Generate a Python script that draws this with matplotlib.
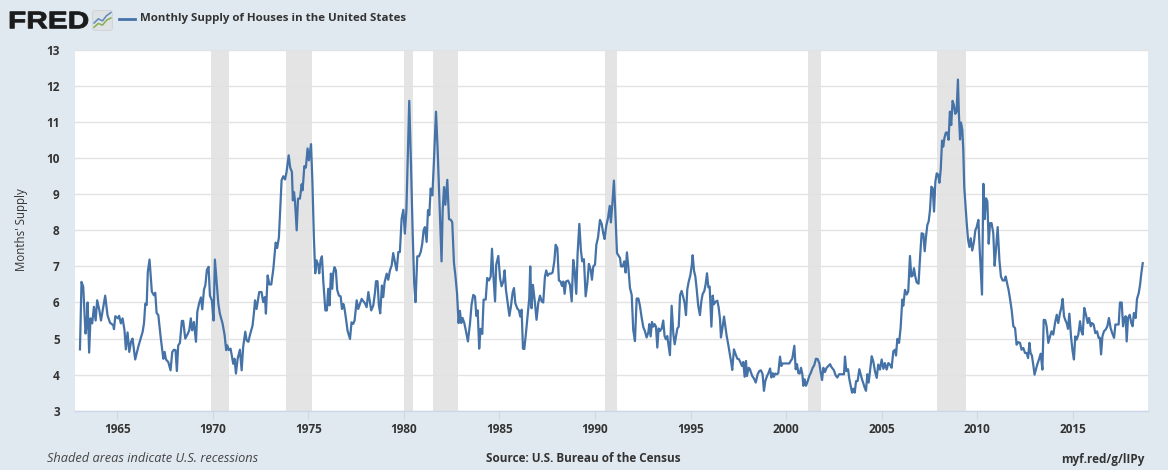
import matplotlib
matplotlib.use("Agg")
import matplotlib.pyplot as plt
from matplotlib.patches import FancyBboxPatch, PathPatch
from matplotlib.textpath import TextPath
from matplotlib.font_manager import FontProperties
from matplotlib.transforms import Affine2D
import numpy as np

# ---------------- data ----------------
years_1963 = [1963.05,1963.13,1963.22,1963.34,1963.40,1963.45,1963.53,1963.60,1963.69,1963.78,1963.87,1963.95,
              1964.06,1964.15,1964.37,1964.49,1964.62,1964.79,1964.83,1964.90,1965.04,1965.10,1965.19,1965.28,
              1965.38,1965.45,1965.54,1965.63,1965.72,1965.80,1965.94,1966.10,1966.33,1966.40,1966.47,1966.54,
              1966.60,1966.69,1966.81,1966.92,1966.99,1967.06,1967.15,1967.27,1967.41,1967.48,1967.55,1967.67,
              1967.79,1967.88,1967.97,1968.05,1968.12,1968.19,1968.28,1968.38,1968.45,1968.56,1968.68,1968.77,
              1968.85,1968.92,1969.01,1969.12,1969.19,1969.29,1969.38,1969.45,1969.54,1969.61,1969.69,1969.78,
              1969.85,1969.95,1970.04,1970.11,1970.18,1970.29,1970.37,1970.51,1970.62,1970.70,1970.76,1970.84,
              1970.93,1971.02,1971.07,1971.14,1971.21,1971.30,1971.42,1971.51,1971.59,1971.70,1971.77,1971.86,
              1971.94]
supply_1963 = [4.70,6.57,6.44,5.14,5.37,6.00,4.61,5.56,5.42,5.88,5.50,6.06,
               5.80,5.50,6.19,5.65,5.44,5.37,5.26,5.62,5.56,5.63,5.42,5.56,
               5.23,4.70,5.17,4.63,4.91,5.00,4.42,4.77,5.19,5.42,5.97,5.93,
               6.85,7.19,6.30,6.20,6.27,5.71,5.65,5.05,4.44,4.63,4.42,4.35,
               4.12,4.63,4.69,4.68,4.10,4.81,4.88,5.49,5.49,5.00,5.12,5.23,
               5.56,5.23,5.46,4.91,5.74,5.99,6.14,5.81,6.36,6.48,6.90,6.99,
               6.19,6.06,5.50,7.19,6.71,5.97,5.69,5.42,5.09,4.68,4.81,4.68,
               4.72,4.44,4.30,4.44,4.03,4.44,4.69,4.12,4.77,5.19,4.95,4.91,
               5.09]

years_1972 = [1972.08,1972.15,1972.21,1972.29,1972.43,1972.55,1972.64,1972.73,1972.78,1972.87,1972.96,1973.06,
              1973.17,1973.29,1973.37,1973.46,1973.53,1973.60,1973.69,1973.78,1973.86,1973.97,1974.05,1974.14,
              1974.19,1974.25,1974.30,1974.39,1974.46,1974.56,1974.65,1974.70,1974.79,1974.87,1974.96,1975.03,
              1975.14,1975.21,1975.29,1975.36,1975.43,1975.52,1975.57,1975.64,1975.71,1975.78,1975.89,1975.97,
              1976.04,1976.11,1976.18,1976.25,1976.30,1976.37,1976.44,1976.51,1976.60,1976.69,1976.76,1976.83,
              1976.88,1976.97,1977.05,1977.18,1977.26,1977.35,1977.42,1977.53,1977.61,1977.70,1977.79,1977.87,
              1977.96,1978.05,1978.14,1978.22,1978.29,1978.40,1978.49,1978.54,1978.62,1978.69,1978.76,1978.85,
              1978.92,1978.99,1979.10,1979.18,1979.27,1979.36,1979.44,1979.53,1979.62,1979.71,1979.79,1979.88,
              1979.97,1980.05,1980.13,1980.19,1980.28,1980.37,1980.46,1980.54,1980.61,1980.70,1980.79,1980.88,
              1980.96,1981.03,1981.10,1981.19,1981.26,1981.33,1981.40,1981.49,1981.57,1981.68,1981.76,1981.85]
supply_1972 = [5.36,5.69,6.06,5.82,6.29,6.29,6.01,6.15,5.69,6.75,6.50,6.50,
               6.94,7.66,7.51,7.81,8.60,9.39,9.50,9.41,9.62,10.08,9.74,9.62,
               8.83,9.06,8.81,8.00,8.88,8.88,9.28,9.11,9.78,9.74,10.27,9.94,
               10.39,9.39,7.81,6.81,7.17,7.03,6.81,7.17,7.28,6.61,5.78,5.78,
               6.38,5.92,6.80,6.38,6.80,6.98,6.89,6.35,6.19,6.17,5.82,5.96,
               5.87,5.55,5.22,4.99,5.45,5.41,5.50,6.06,5.82,5.96,6.10,6.04,
               5.98,5.87,6.29,6.01,5.78,5.92,6.29,6.59,6.59,5.92,5.70,6.47,
               6.15,6.56,6.80,6.63,6.89,7.03,7.37,7.12,6.89,7.40,7.40,8.32,
               8.57,7.91,8.56,9.76,11.59,9.85,7.91,6.52,6.01,7.28,7.28,7.40,
               7.63,8.00,8.09,7.68,8.56,8.42,9.16,8.97,9.90,11.29,10.31,8.93]

years_1982 = [1981.97,1982.03,1982.10,1982.17,1982.27,1982.36,1982.46,1982.53,1982.62,1982.69,1982.78,1982.86,
              1982.93,1983.00,1983.07,1983.16,1983.25,1983.35,1983.46,1983.54,1983.63,1983.72,1983.79,1983.86,
              1983.94,1984.01,1984.10,1984.17,1984.28,1984.36,1984.45,1984.54,1984.61,1984.68,1984.77,1984.83,
              1984.94,1985.03,1985.11,1985.20,1985.27,1985.34,1985.43,1985.52,1985.60,1985.69,1985.76,1985.83,
              1985.93,1986.02,1986.09,1986.16,1986.23,1986.30,1986.39,1986.48,1986.56,1986.61,1986.68,1986.75,
              1986.86,1986.94,1987.03,1987.12,1987.21,1987.29,1987.38,1987.45,1987.52,1987.61,1987.70,1987.78,
              1987.87,1987.94,1988.03,1988.11,1988.20,1988.27,1988.34,1988.41,1988.48,1988.59,1988.69,1988.78,
              1988.86,1988.93,1989.02,1989.09,1989.18,1989.26,1989.33,1989.42,1989.51,1989.60,1989.68,1989.77,
              1989.84,1989.91,1990.00,1990.07,1990.16,1990.26,1990.35,1990.43,1990.50,1990.59,1990.68,1990.77,
              1990.83,1990.91,1990.99,1991.08,1991.15,1991.24,1991.31,1991.36,1991.45,1991.53,1991.60,1991.67,
              1991.74,1991.83,1991.92]
supply_1982 = [7.14,8.57,9.20,8.71,9.40,8.31,8.29,8.22,7.09,6.77,6.26,5.43,
               5.77,5.43,5.57,5.43,5.20,4.92,5.43,5.94,6.21,6.17,5.63,5.78,
               4.72,5.27,5.13,6.08,6.08,6.68,6.61,6.72,7.49,6.77,6.03,7.05,
               7.29,6.68,6.45,6.58,6.89,6.35,5.98,5.63,5.89,6.28,6.40,5.98,
               5.84,5.78,5.61,5.80,4.72,4.71,5.17,5.66,6.12,7.00,5.84,6.49,
               5.98,5.52,5.98,6.19,6.03,6.00,6.72,6.89,6.74,6.80,6.80,6.83,
               7.14,7.60,7.51,6.61,6.58,6.46,6.58,6.24,6.58,6.61,6.49,6.03,
               7.18,6.91,6.24,7.37,8.18,7.46,7.14,7.20,6.17,6.54,7.07,6.91,
               6.63,7.00,7.05,7.60,7.81,8.29,8.18,7.92,7.76,8.13,8.34,8.68,
               8.22,8.75,9.38,8.29,7.37,7.29,7.23,7.00,7.00,7.14,6.83,7.39,
               7.00,6.40,6.21]

years_1992 = [1992.00,1992.09,1992.18,1992.27,1992.35,1992.44,1992.53,1992.61,1992.70,1992.79,1992.84,1992.91,
              1992.98,1993.05,1993.12,1993.19,1993.26,1993.33,1993.40,1993.49,1993.57,1993.64,1993.71,1993.78,
              1993.85,1993.92,1994.01,1994.10,1994.17,1994.24,1994.31,1994.38,1994.45,1994.53,1994.62,1994.69,
              1994.76,1994.83,1994.90,1994.99,1995.06,1995.11,1995.18,1995.25,1995.32,1995.40,1995.49,1995.56,
              1995.63,1995.72,1995.79,1995.86,1995.93,1996.00,1996.09,1996.16,1996.22,1996.31,1996.40,1996.47,
              1996.54,1996.59,1996.66,1996.75,1996.82,1996.89,1996.97,1997.06,1997.13,1997.18,1997.27,1997.36,
              1997.45,1997.53,1997.62,1997.69,1997.76,1997.83,1997.90,1997.95,1998.04,1998.11,1998.16,1998.23,
              1998.32,1998.41,1998.51,1998.60,1998.68,1998.77,1998.84,1998.91,1999.00,1999.09,1999.16,1999.23,
              1999.30,1999.36,1999.43,1999.52,1999.59,1999.68,1999.75,1999.82,1999.90,1999.99,2000.08,2000.17,
              2000.24,2000.32,2000.38,2000.43,2000.50,2000.57,2000.64,2000.71,2000.78,2000.85,2000.90,2000.97,
              2001.04,2001.13,2001.21,2001.30,2001.39,2001.47,2001.56,2001.65,2001.74,2001.81,2001.88,2001.95,
              2002.03,2002.12,2002.21,2002.30,2002.36,2002.43,2002.50,2002.59,2002.68,2002.77,2002.85,2002.94,
              2003.03,2003.08,2003.15,2003.24,2003.31,2003.38,2003.45,2003.52,2003.59,2003.66,2003.74,2003.83,
              2003.90,2003.97,2004.04,2004.11,2004.18,2004.25,2004.32,2004.39]
supply_1992 = [5.24,4.93,6.11,6.11,5.91,5.58,5.31,5.21,5.03,5.17,5.40,5.06,
               5.46,5.33,5.40,5.33,4.75,5.28,5.21,5.28,5.50,5.07,4.98,5.07,
               4.80,4.54,5.91,5.12,4.84,5.07,5.28,5.33,6.20,6.32,6.14,5.98,
               5.65,6.37,6.57,6.76,7.02,7.31,6.88,6.72,6.37,5.91,5.65,6.02,
               6.23,6.32,6.51,6.81,6.42,6.44,5.33,6.19,5.95,6.02,6.05,5.86,
               5.54,5.03,5.26,5.61,5.33,5.07,4.84,4.56,4.33,4.13,4.70,4.56,
               4.44,4.43,4.33,4.24,4.35,3.94,4.38,3.96,4.19,4.15,4.06,3.96,
               3.89,3.78,4.01,4.10,4.12,4.01,3.55,3.82,3.96,4.06,4.17,3.92,
               4.04,3.94,4.03,4.01,4.04,4.50,4.24,4.31,4.31,4.31,4.31,4.31,
               4.38,4.44,4.63,4.80,4.15,4.29,4.04,4.03,4.19,4.01,3.69,3.87,
               3.69,3.82,3.96,4.06,4.19,4.26,4.44,4.43,4.31,4.06,3.85,4.19,
               4.07,4.19,4.24,4.29,4.22,4.17,4.12,3.98,3.92,4.01,4.01,4.01,
               4.01,4.50,4.10,4.15,3.87,3.69,3.50,3.61,3.50,3.82,3.82,4.15,
               4.01,3.87,3.76,3.64,3.55,4.01,3.78,4.10]

years_2004 = [2004.48,2004.56,2004.65,2004.74,2004.82,2004.91,2005.00,2005.09,2005.17,2005.26,2005.35,2005.43,
              2005.52,2005.61,2005.70,2005.75,2005.82,2005.91,2005.99,2006.08,2006.13,2006.22,2006.31,2006.39,
              2006.48,2006.55,2006.62,2006.69,2006.76,2006.83,2006.93,2007.00,2007.09,2007.18,2007.25,2007.32,
              2007.39,2007.46,2007.53,2007.60,2007.67,2007.74,2007.81,2007.88,2007.96,2008.02,2008.09,2008.16,
              2008.22,2008.29,2008.36,2008.43,2008.50,2008.57,2008.64,2008.71,2008.78,2008.85,2008.92,2008.99,
              2009.04,2009.10,2009.15,2009.22,2009.27,2009.32,2009.38,2009.45,2009.52,2009.59,2009.66,2009.74,
              2009.83,2009.90,2009.97,2010.06,2010.13,2010.25,2010.32,2010.39,2010.46,2010.53,2010.60,2010.67,
              2010.75,2010.84,2010.91,2010.98,2011.07,2011.16,2011.24,2011.33,2011.42,2011.49,2011.56,2011.64,
              2011.71,2011.80,2011.89,2011.98,2012.06,2012.15,2012.24,2012.32,2012.41,2012.50,2012.59,2012.66,
              2012.73,2012.79,2012.86,2012.93,2013.00,2013.07,2013.14,2013.23,2013.32,2013.41,2013.48,2013.56,
              2013.63,2013.72,2013.81,2013.89,2013.98,2014.07,2014.16,2014.24,2014.33,2014.40,2014.47,2014.54,
              2014.61,2014.68,2014.75,2014.82,2014.91,2014.99,2015.06,2015.13,2015.20,2015.29,2015.38,2015.45,
              2015.52,2015.60,2015.69,2015.78,2015.85,2015.94,2016.00,2016.09,2016.18,2016.27,2016.35,2016.42,
              2016.48,2016.55,2016.63,2016.72,2016.81,2016.89,2016.98,2017.07,2017.16,2017.23,2017.31,2017.40,
              2017.47,2017.56,2017.63,2017.70,2017.77,2017.82,2017.89,2017.98,2018.06,2018.13,2018.20,2018.29,
              2018.36,2018.45,2018.52,2018.59,2018.66]
supply_2004 = [4.51,4.37,4.09,3.91,4.28,4.14,4.42,4.16,4.32,4.14,4.32,4.28,
               4.19,4.65,4.69,4.53,4.99,4.88,5.29,6.08,5.91,6.35,6.22,6.31,
               7.29,6.72,6.74,6.95,6.72,6.56,6.52,7.18,7.92,7.90,7.42,7.83,
               8.15,8.25,8.57,9.21,9.17,8.52,9.35,9.58,9.54,9.32,9.68,10.49,
               10.32,10.58,10.71,10.71,10.51,11.29,10.92,11.59,11.47,11.23,11.29,12.18,
               11.23,10.52,10.99,10.78,10.23,9.21,8.75,8.20,7.74,7.54,7.78,7.44,
               7.69,8.00,8.09,8.29,7.46,6.22,9.29,8.31,8.89,8.80,7.63,8.20,
               8.20,7.92,7.02,7.46,8.09,7.18,6.72,6.61,6.61,6.72,6.54,6.35,
               6.12,5.80,5.34,5.29,4.83,4.90,4.88,4.69,4.74,4.60,4.60,4.46,
               4.88,4.60,4.53,4.28,4.00,4.14,4.28,4.42,4.58,4.14,5.52,5.51,
               5.34,4.88,5.06,5.20,5.11,5.43,5.66,5.43,5.71,5.85,6.10,5.62,
               5.51,5.43,5.27,5.69,5.04,4.65,4.42,5.06,4.97,5.11,5.48,5.20,
               5.11,5.85,5.66,5.43,5.57,5.34,5.43,5.39,5.15,5.20,5.02,5.02,
               4.56,5.06,5.20,5.25,5.34,5.57,5.29,5.14,5.02,5.39,5.39,5.39,
               6.00,6.00,5.34,5.57,5.62,4.92,5.57,5.66,5.43,5.34,5.71,5.57,
               6.10,6.26,6.49,6.82,7.09]

recession_start = [1969.92, 1973.83, 1980.00, 1981.50, 1990.50, 2001.17, 2007.92]
recession_end = [1970.83, 1975.17, 1980.50, 1982.83, 1991.17, 2001.83, 2009.42]

y_ticks = [3, 4, 5, 6, 7, 8, 9, 10, 11, 12, 13]
x_ticks = [1965, 1970, 1975, 1980, 1985, 1990, 1995, 2000, 2005, 2010, 2015]
x_tick_labels = [str(v) for v in x_ticks]

title = "Monthly Supply of Houses in the United States"
y_label = "Months' Supply"

# ---------------- assemble ----------------
pairs = [(years_1963, supply_1963), (years_1972, supply_1972), (years_1982, supply_1982),
         (years_1992, supply_1992), (years_2004, supply_2004)]
for a, b in pairs:
    assert len(a) == len(b), (len(a), len(b))
x = np.concatenate([np.array(a) for a, _ in pairs])
y = np.concatenate([np.array(b) for _, b in pairs])

# ---------------- style ----------------
BG = "#e1e9f0"
LINE = "#4572a7"
GRID = "#e2e2e2"
REC = "#e4e4e4"
TXT = "#333333"
FONT = ["Open Sans", "DejaVu Sans"]
plt.rcParams["font.family"] = FONT

W, H = 1168, 470
fig = plt.figure(figsize=(W / 100, H / 100), dpi=100, facecolor=BG)

L, R, T, B = 75, 1147.7, 50, 410.7
ax = fig.add_axes([L / W, 1 - B / H, (R - L) / W, (B - T) / H])
ax.set_facecolor("white")

for s, e in zip(recession_start, recession_end):
    ax.axvspan(s, e, color=REC, lw=0, zorder=1)

ax.plot(x, y, color=LINE, lw=1.6, zorder=3, solid_joinstyle="round")

ax.set_xlim(1962.79, 2018.92)
ax.set_ylim(3, 13)
ax.set_yticks(y_ticks)
ax.set_yticklabels([str(v) for v in y_ticks])
ax.set_xticks(x_ticks)
ax.set_xticklabels(x_tick_labels)
ax.grid(axis="y", color=GRID, lw=1.0, zorder=0)
ax.grid(axis="x", visible=False)
for sp in ["left", "right", "top"]:
    ax.spines[sp].set_visible(False)
ax.spines["bottom"].set_color("#ccd6eb")
ax.spines["bottom"].set_linewidth(1.0)
ax.tick_params(axis="y", length=0, pad=11, labelsize=8.5, labelcolor=TXT)
ax.tick_params(axis="x", length=6, width=0.8, color="#ccd6eb", pad=3, labelsize=8.5, labelcolor=TXT)
for lab in ax.get_xticklabels() + ax.get_yticklabels():
    lab.set_fontweight("bold")

fig.text(22 / W, 1 - 230 / H, y_label, rotation=90, ha="center", va="center",
         fontsize=8.3, color=TXT)

# ---------------- header ----------------
# FRED wordmark fitted to its box (pixels: x 10..88, y 11.7..28.3 from top)
tp = TextPath((0, 0), "FRED", prop=FontProperties(family=["Liberation Sans", "DejaVu Sans"], weight="bold"))
ext = tp.get_extents()
x0, x1, ytop, ybot = 10, 88, 11.7, 28.3
sx = (x1 - x0) / ext.width / W
sy = (ybot - ytop) / ext.height / H
tr = Affine2D().translate(-ext.x0, -ext.y0).scale(sx, sy).translate(x0 / W, 1 - ybot / H) + fig.transFigure
fig.add_artist(PathPatch(tp, transform=tr, fc="#1b1b1b", ec="#1b1b1b", lw=0.6))

icon = fig.add_axes([92 / W, 1 - 31 / H, 21 / W, 21 / H])
icon.set_xlim(0, 1)
icon.set_ylim(0, 1)
icon.axis("off")
icon.add_patch(FancyBboxPatch((0.03, 0.03), 0.94, 0.94, boxstyle="round,pad=0,rounding_size=0.1",
                              fc="#dfe2e5", ec="#cdd2d7", lw=0.6))
icon.plot([0.1, 0.3, 0.5, 0.68, 0.9], [0.38, 0.58, 0.48, 0.72, 0.88], color="#5f86bd", lw=1.1)
icon.plot([0.1, 0.3, 0.5, 0.7, 0.9], [0.18, 0.36, 0.28, 0.52, 0.62], color="#86b04f", lw=1.1)

fig.add_artist(plt.Line2D([119 / W, 135 / W], [1 - 19 / H, 1 - 19 / H], color=LINE, lw=2))
fig.text(140 / W, 1 - 19 / H, title, ha="left", va="center", fontsize=8.25,
         fontweight="bold", color=TXT)

# ---------------- footer ----------------
fig.text(47 / W, 1 - 459 / H, "Shaded areas indicate U.S. recessions", ha="left", va="center",
         fontsize=9.2, style="italic", color="#444444")
fig.text(583 / W, 1 - 459 / H, "Source: U.S. Bureau of the Census", ha="center", va="center",
         fontsize=8.5, fontweight="bold", color=TXT)
fig.text(1145 / W, 1 - 459 / H, "myf.red/g/lIPy", ha="right", va="center",
         fontsize=8.5, fontweight="bold", color=TXT)

fig.savefig("out.png", dpi=100, facecolor=BG)
